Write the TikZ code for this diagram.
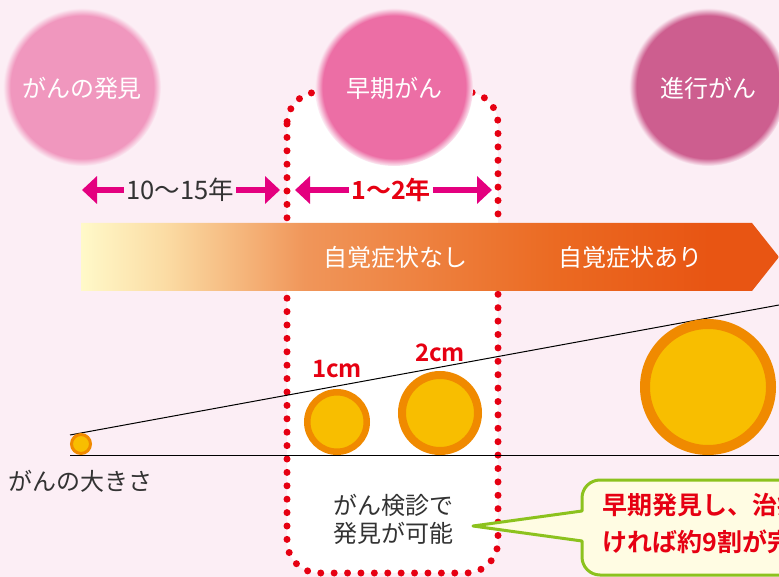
\documentclass[tikz,border=0pt]{standalone}
\usepackage{fontspec}
\setmainfont{Noto Sans CJK JP}[BoldFont={Noto Sans CJK JP Bold}]
\usetikzlibrary{arrows.meta}
\usetikzlibrary{positioning}

\definecolor{bgpink}{HTML}{FCEEF5}
\definecolor{cFind}{HTML}{F097BE}
\definecolor{cEarly}{HTML}{EC6EA5}
\definecolor{cAdv}{HTML}{CD5E8F}
\definecolor{arrowpink}{HTML}{E4007F}
\definecolor{dotred}{HTML}{E60012}
\definecolor{ringorange}{HTML}{F08A00}
\definecolor{tumyellow}{HTML}{F8BE00}
\definecolor{callgreen}{HTML}{8CC21E}
\definecolor{callfill}{HTML}{FFFCE3}
\definecolor{darktext}{HTML}{333333}
\definecolor{barA}{HTML}{FFF9C9}
\definecolor{barB}{HTML}{FBDCA4}
\definecolor{barC}{HTML}{F0965A}
\definecolor{barD}{HTML}{EB6A22}
\definecolor{barE}{HTML}{E85513}

\pgfdeclarehorizontalshading{barfade}{100bp}{color(0bp)=(barA); color(25bp)=(barA); color(31bp)=(barB); color(41bp)=(barC); color(59bp)=(barD); color(70bp)=(barE); color(100bp)=(barE)}
\pgfdeclareradialshading{blobfind}{\pgfpointorigin}{color(0bp)=(cFind); color(22.6bp)=(cFind); color(25bp)=(bgpink); color(50bp)=(bgpink)}
\pgfdeclareradialshading{blobearly}{\pgfpointorigin}{color(0bp)=(cEarly); color(22.6bp)=(cEarly); color(25bp)=(bgpink); color(50bp)=(bgpink)}
\pgfdeclareradialshading{blobadv}{\pgfpointorigin}{color(0bp)=(cAdv); color(22.6bp)=(cAdv); color(25bp)=(bgpink); color(50bp)=(bgpink)}

\begin{document}
\begin{tikzpicture}[x=1pt,y=-1pt]
	%\draw[help lines] (0,0) grid (779,577);
	
	\tikzstyle{blobtext} = [text=white,font=\fontsize{24}{28}\selectfont]
	\tikzstyle{bartext} = [text=white,font=\fontsize{24}{28}\selectfont]
	\tikzstyle{spantext} = [text=darktext,inner sep=2pt,font=\fontsize{25.5}{28}\selectfont]
	\tikzstyle{spanarrow} = [-{Triangle[length=15pt,width=27pt]},line width=6pt,arrowpink]
	\tikzstyle{reddots} = [draw=dotred,line width=7pt,line cap=round,dash pattern=on 0pt off 13.4pt]
	\tikzstyle{tumour} = [circle,draw=ringorange,fill=tumyellow,inner sep=0pt]
	\tikzstyle{cmlabel} = [text=dotred,font=\fontsize{24}{26}\selectfont\bfseries]
	\tikzstyle{plaintext} = [text=darktext,align=center,font=\fontsize{24}{28}\selectfont]
	\tikzstyle{callout} = [draw=callgreen,fill=callfill,line width=3pt,line join=round]
	
	\fill[bgpink] (0,0) rectangle (779,577);
	\useasboundingbox (0,0) rectangle (779,577);
	
	% screening window
	\filldraw[reddots,fill=white,rounded corners=32pt] (287,92) rectangle (498,573);
	
	% stages
	\foreach \cx/\txt/\nm in {82/がんの発見/find,394/早期がん/early,708/進行がん/adv}{
		\shade[shading=blob\nm] (\cx,87) circle (79pt);
		\node[blobtext] (\nm) at (\cx,88) {\txt};
	}
	
	% spans
	\node[spantext] (span1) at (180,190) {10〜15年};
	\coordinate (span1L) at (82,190);
	\coordinate (span1R) at (280,190);
	\draw[spanarrow] (span1) -- (span1L);
	\draw[spanarrow] (span1) -- (span1R);
	
	\node[spantext,text=dotred,font=\fontsize{25}{28}\selectfont\bfseries] (span2) at (391,190) {1〜2年};
	\coordinate (span2L) at (295,190);
	\coordinate (span2R) at (492,190);
	\draw[spanarrow] (span2) -- (span2L);
	\draw[spanarrow] (span2) -- (span2R);
	
	% symptoms bar
	\shade[shading=barfade] (81,223) -- (752,223) -- (779,257) -- (752,291) -- (81,291) -- cycle;
	\node[bartext] (nosym) at (395,257) {自覚症状なし};
	\node[bartext] (sym) at (630,257) {自覚症状あり};
	
	% size axis
	\coordinate (baseL) at (70,455);
	\coordinate (baseR) at (779,455);
	\coordinate (slopeL) at (70,435);
	\coordinate (slopeR) at (779,305);
	\draw[line width=1pt] (baseL) -- (baseR);
	\draw[line width=1pt] (slopeL) -- (slopeR);
	
	\node[tumour,line width=3pt,minimum size=19pt] (t0) at (81,444) {};
	\node[tumour,line width=6.5pt,minimum size=59.5pt] (t1) at (337,422) {};
	\node[tumour,line width=8pt,minimum size=76pt] (t2) at (440,413) {};
	\node[tumour,line width=10pt,minimum size=126pt] (t3) at (708,387) {};
	
	\node[cmlabel,above=8pt of t1] (lbl1) {1cm};
	\node[cmlabel,above=6pt of t2] (lbl2) {2cm};
	\node[plaintext,below=12pt of t0] (size) {がんの大きさ};
	
	% screening note and callout
	\node[plaintext] (exam) at (393,519) {がん検診で\\発見が可能};
	\coordinate (tip) at (473,526);
	\draw[callout] (tip) -- (582,511) [rounded corners=18pt] -- (582,480) -- (830,480) -- (830,575) -- (582,575) [sharp corners] -- (582,541) -- cycle;
	\node[anchor=west,text=dotred,align=left,font=\fontsize{25}{37}\selectfont\bfseries] (calltxt) at (599,524) {早期発見し、治療\\ければ約9割が完};

\end{tikzpicture}
\end{document}
